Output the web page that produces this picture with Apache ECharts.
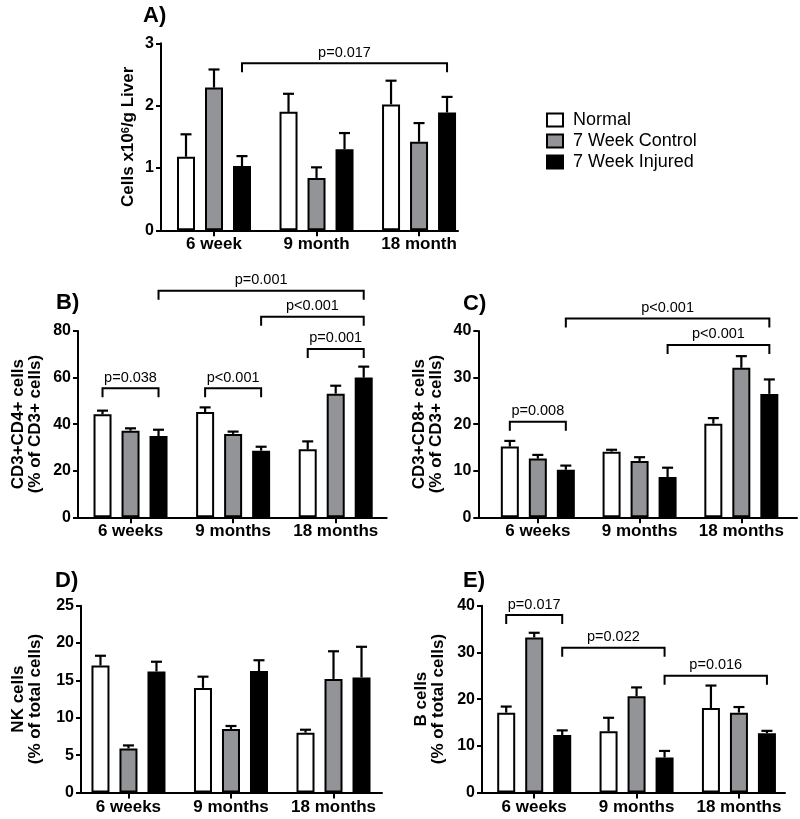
<!DOCTYPE html>
<html><head><meta charset="utf-8">
<script src="https://cdn.jsdelivr.net/npm/echarts@6/dist/echarts.min.js"></script>
<style>html,body{margin:0;padding:0;background:#fff}#c{width:800px;height:819px}</style>
</head><body><div id="c"></div>
<script>
// ---------------- data ----------------
const seriesNames = ['Normal', '7 Week Control', '7 Week Injured'];
const categoriesA = ['6 week', '9 month', '18 month'];
const categories = ['6 weeks', '9 months', '18 months'];

// A) Cells x10^6 / g liver
const normalA = [1.18, 1.90, 2.02];
const normalA_err = [0.36, 0.29, 0.38];
const controlA = [2.29, 0.84, 1.42];
const controlA_err = [0.29, 0.17, 0.30];
const injuredA = [1.03, 1.30, 1.89];
const injuredA_err = [0.16, 0.26, 0.25];

// B) CD3+CD4+ (% of CD3+)
const normalB = [44.2, 45.2, 29.2];
const normalB_err = [1.6, 2.0, 3.4];
const controlB = [37.2, 35.8, 53.1];
const controlB_err = [1.0, 1.0, 3.4];
const injuredB = [34.9, 28.6, 60.0];
const injuredB_err = [2.7, 1.7, 4.7];

// C) CD3+CD8+ (% of CD3+)
const normalC = [15.2, 14.1, 20.1];
const normalC_err = [1.2, 0.4, 1.2];
const controlC = [12.6, 12.1, 32.1];
const controlC_err = [0.8, 0.8, 2.5];
const injuredC = [10.2, 8.65, 26.5];
const injuredC_err = [0.9, 2.0, 3.1];

// D) NK cells (% of total)
const normalD = [17.0, 14.0, 8.0];
const normalD_err = [1.3, 1.5, 0.4];
const controlD = [5.9, 8.5, 15.2];
const controlD_err = [0.4, 0.4, 3.7];
const injuredD = [16.2, 16.25, 15.4];
const injuredD_err = [1.3, 1.45, 4.1];

// E) B cells (% of total)
const normalE = [17.1, 13.1, 18.1];
const normalE_err = [1.3, 2.9, 4.8];
const controlE = [33.2, 20.6, 17.1];
const controlE_err = [1.0, 1.9, 1.2];
const injuredE = [12.3, 7.5, 12.7];
const injuredE_err = [1.0, 1.4, 0.5];

// significance brackets: from/to = [category index, series index]
const bracketsA = [
  {from: [0, 2], to: [2, 2], y: 2.68, label: 'p=0.017'}
];
const bracketsB = [
  {from: [0, 0], to: [0, 2], y: 55.4, label: 'p=0.038'},
  {from: [1, 0], to: [1, 2], y: 55.4, label: 'p<0.001'},
  {from: [2, 0], to: [2, 2], y: 72.3, label: 'p=0.001'},
  {from: [1, 2], to: [2, 2], y: 86.1, label: 'p<0.001'},
  {from: [0, 2], to: [2, 2], y: 97.3, label: 'p=0.001'}
];
const bracketsC = [
  {from: [0, 0], to: [0, 2], y: 20.5, label: 'p=0.008'},
  {from: [1, 2], to: [2, 2], y: 37.0, label: 'p<0.001'},
  {from: [0, 2], to: [2, 2], y: 42.7, label: 'p<0.001'}
];
const bracketsD = [];
const bracketsE = [
  {from: [0, 0], to: [0, 2], y: 38.0, label: 'p=0.017'},
  {from: [0, 2], to: [1, 2], y: 31.0, label: 'p=0.022'},
  {from: [1, 2], to: [2, 2], y: 25.0, label: 'p=0.016'}
];

// ---------------- layout / style ----------------
const FONT = '"Liberation Sans", Arial, Helvetica, sans-serif';
const STEP = 28, BAR_W = 18, CAP = 11, LEG = 9;
const colors = ['#ffffff', '#929497', '#000000'];

const panels = [
  {title: 'A)', tpos: [143, 16], cats: categoriesA,
   vals: [normalA, controlA, injuredA], errs: [normalA_err, controlA_err, injuredA_err], br: bracketsA,
   yMax: 3, yInt: 1, yName: 'Cells x10{sup|6}/g Liver', nameGap: 24,
   grid: {left: 161, top: 43.3, width: 297, height: 187}, xMin: -0.517, xMax: 2.38},
  {title: 'B)', tpos: [56, 303], cats: categories,
   vals: [normalB, controlB, injuredB], errs: [normalB_err, controlB_err, injuredB_err], br: bracketsB,
   yMax: 80, yInt: 20, yName: 'CD3+CD4+ cells\n(% of CD3+ cells)', nameGap: 34,
   grid: {left: 78, top: 331, width: 308.7, height: 186.3}, xMin: -0.512, xMax: 2.497},
  {title: 'C)', tpos: [463, 304], cats: categories,
   vals: [normalC, controlC, injuredC], errs: [normalC_err, controlC_err, injuredC_err], br: bracketsC,
   yMax: 40, yInt: 10, yName: 'CD3+CD8+ cells\n(% of CD3+ cells)', nameGap: 33,
   grid: {left: 478.3, top: 331, width: 318.7, height: 186.3}, xMin: -0.585, xMax: 2.547},
  {title: 'D)', tpos: [55, 581], cats: categories,
   vals: [normalD, controlD, injuredD], errs: [normalD_err, controlD_err, injuredD_err], br: bracketsD,
   yMax: 25, yInt: 5, yName: 'NK cells\n(% of total cells)', nameGap: 37,
   grid: {left: 81, top: 605.7, width: 301, height: 186.8}, xMin: -0.463, xMax: 2.473},
  {title: 'E)', tpos: [463, 581], cats: categories,
   vals: [normalE, controlE, injuredE], errs: [normalE_err, controlE_err, injuredE_err], br: bracketsE,
   yMax: 40, yInt: 10, yName: 'B cells\n(% of total cells)', nameGap: 35,
   grid: {left: 482, top: 605.7, width: 303, height: 186.8}, xMin: -0.51, xMax: 2.45}
];

function errRender(params, api) {
  const cat = api.value(0), v = api.value(1), e = api.value(2), s = api.value(3);
  const p0 = api.coord([cat, v]);
  const p1 = api.coord([cat, v + e]);
  const x = p0[0] + (s - 1) * STEP;
  return {type: 'group', children: [
    {type: 'line', shape: {x1: x, y1: p0[1], x2: x, y2: p1[1]}, style: {stroke: '#000', lineWidth: 2.2}},
    {type: 'line', shape: {x1: x - CAP / 2, y1: p1[1], x2: x + CAP / 2, y2: p1[1]}, style: {stroke: '#000', lineWidth: 2.2}}
  ]};
}

function makeBracketRender(list) {
  return function (params, api) {
    const b = list[params.dataIndex];
    const a = api.coord([b.from[0], b.y]);
    const c = api.coord([b.to[0], b.y]);
    const x1 = a[0] + (b.from[1] - 1) * STEP;
    const x2 = c[0] + (b.to[1] - 1) * STEP;
    const y = a[1];
    return {type: 'group', children: [
      {type: 'polyline', shape: {points: [[x1, y + LEG], [x1, y], [x2, y], [x2, y + LEG]]},
       style: {stroke: '#000', lineWidth: 2, fill: 'none', lineJoin: 'miter'}},
      {type: 'text', x: (x1 + x2) / 2, y: y - 3,
       style: {text: b.label, font: '14.5px ' + FONT, fill: '#000', align: 'center', verticalAlign: 'bottom',
               textAlign: 'center', textVerticalAlign: 'bottom'}}
    ]};
  };
}

const grid = [], xAxis = [], yAxis = [], series = [], graphic = [];
panels.forEach((p, i) => {
  grid.push(Object.assign({containLabel: false}, p.grid));
  xAxis.push({
    type: 'value', gridIndex: i, min: p.xMin, max: p.xMax,
    axisLine: {show: true, onZero: false, lineStyle: {color: '#000', width: 2}},
    axisTick: {show: true, customValues: [0, 1, 2], length: 6, lineStyle: {color: '#000', width: 2}},
    axisLabel: {customValues: [0, 1, 2], formatter: (v) => p.cats[Math.round(v)], margin: 6,
                color: '#000', fontFamily: FONT, fontWeight: 'bold', fontSize: 17},
    splitLine: {show: false}
  });
  yAxis.push({
    type: 'value', gridIndex: i, min: 0, max: p.yMax, interval: p.yInt,
    name: p.yName, nameLocation: 'middle', nameGap: p.nameGap, nameRotate: 90,
    nameTextStyle: {color: '#000', fontFamily: FONT, fontWeight: 'bold', fontSize: 17, lineHeight: 17,
                    rich: {sup: {fontSize: 11, fontWeight: 'bold', fontFamily: FONT, color: '#000', verticalAlign: 'top', lineHeight: 17}}},
    axisLine: {show: true, onZero: false, lineStyle: {color: '#000', width: 2}},
    axisTick: {show: true, length: 5, lineStyle: {color: '#000', width: 2}},
    axisLabel: {color: '#000', fontFamily: FONT, fontWeight: 'bold', fontSize: 16, margin: 7},
    splitLine: {show: false}
  });
  p.vals.forEach((arr, s) => {
    series.push({
      type: 'bar', name: seriesNames[s], xAxisIndex: i, yAxisIndex: i,
      data: arr.map((v, k) => [k, v]),
      barWidth: BAR_W, barGap: ((STEP - BAR_W) / BAR_W * 100).toFixed(2) + '%',
      itemStyle: {color: colors[s], borderColor: '#000', borderWidth: 2},
      emphasis: {disabled: true}, animation: false, z: 2
    });
  });
  const errData = [];
  p.vals.forEach((arr, s) => arr.forEach((v, k) => errData.push([k, v, p.errs[s][k], s])));
  series.push({
    type: 'custom', xAxisIndex: i, yAxisIndex: i, data: errData, renderItem: errRender,
    clip: false, silent: true, animation: false, z: 3
  });
  if (p.br.length) {
    series.push({
      type: 'custom', xAxisIndex: i, yAxisIndex: i, data: p.br.map(b => [b.from[0], b.y]),
      renderItem: makeBracketRender(p.br), clip: false, silent: true, animation: false, z: 3
    });
  }
  graphic.push({type: 'text', x: p.tpos[0], y: p.tpos[1],
    style: {text: p.title, font: 'bold 22px ' + FONT, fill: '#000', verticalAlign: 'middle', textVerticalAlign: 'middle'}});
});

const chart = echarts.init(document.getElementById('c'), null, {renderer: 'canvas'});
chart.setOption({
  backgroundColor: '#fff',
  animation: false,
  textStyle: {fontFamily: FONT},
  grid, xAxis, yAxis, series, graphic,
  legend: {
    data: seriesNames, orient: 'vertical', left: 546, top: 111, padding: 0,
    icon: 'rect', itemWidth: 16, itemHeight: 13, itemGap: 3, selectedMode: false,
    itemStyle: {borderColor: '#000', borderWidth: 2},
    textStyle: {fontSize: 18, fontFamily: FONT, color: '#000', lineHeight: 18, padding: [0, 0, 0, 5]}
  }
});
</script></body></html>
